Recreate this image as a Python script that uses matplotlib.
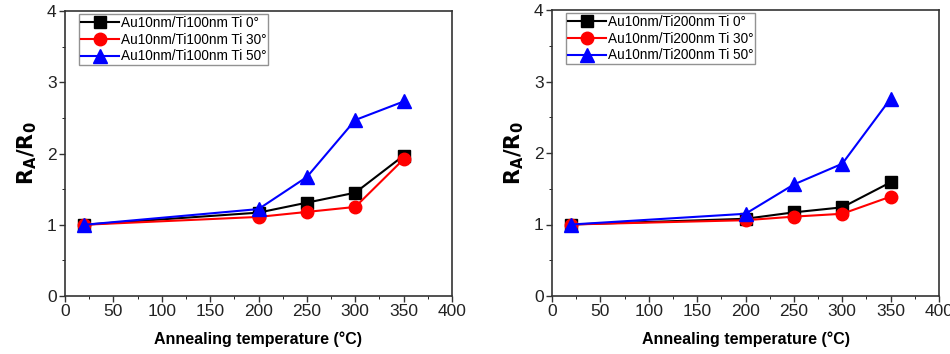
from matplotlib import pyplot
import matplotlib

matplotlib.rcParams['font.family'] = ['Liberation Sans', 'DejaVu Sans']

temps = [20, 200, 250, 300, 350]

ti100_0 = [1.00, 1.17, 1.31, 1.45, 1.97]
ti100_30 = [1.00, 1.11, 1.18, 1.25, 1.92]
ti100_50 = [1.00, 1.22, 1.67, 2.47, 2.73]

ti200_0 = [1.00, 1.08, 1.17, 1.24, 1.59]
ti200_30 = [1.00, 1.06, 1.11, 1.15, 1.39]
ti200_50 = [1.00, 1.15, 1.56, 1.85, 2.76]

labels_100 = ["Au10nm/Ti100nm Ti 0°", "Au10nm/Ti100nm Ti 30°", "Au10nm/Ti100nm Ti 50°"]
labels_200 = ["Au10nm/Ti200nm Ti 0°", "Au10nm/Ti200nm Ti 30°", "Au10nm/Ti200nm Ti 50°"]


def main():
    fig = pyplot.figure(figsize=(9.5, 3.54), dpi=100)
    ax = fig.add_axes([65 / 950, 1 - 296 / 354, 387 / 950, 285 / 354])
    ax1 = fig.add_axes([552 / 950, 1 - 296 / 354, 387 / 950, 286 / 354])

    styles = [("black", "s", 8.5), ("red", "o", 9), ("blue", "^", 10)]
    for a, series, labels in [(ax, [ti100_0, ti100_30, ti100_50], labels_100),
                              (ax1, [ti200_0, ti200_30, ti200_50], labels_200)]:
        for (c, m, ms), y, lab in zip(styles, series, labels):
            a.plot(temps, y, color=c, marker=m, ms=ms, lw=1.5, label=lab)
        a.set_xlim(0, 400)
        a.set_ylim(0, 4)
        a.set_xticks(range(0, 401, 50))
        a.set_xticks(range(25, 400, 50), minor=True)
        a.set_yticks([0, 1, 2, 3, 4])
        a.set_yticks([0.5, 1.5, 2.5, 3.5], minor=True)
        a.tick_params(labelsize=12.5, length=4, width=1, colors="#333333", labelcolor="#222222", pad=2)
        a.tick_params(which="minor", length=2.5)
        for s in a.spines.values():
            s.set_color("#333333")
            s.set_linewidth(1.2)
        a.set_xlabel("Annealing temperature (°C)", fontsize=11.5, fontweight="bold", labelpad=9)
        a.set_ylabel(r"$\mathbf{R_A/R_0}$", fontsize=15, labelpad=6)
        leg = a.legend(loc="upper left", bbox_to_anchor=(0.035, 0.99), fontsize=9.8,
                       frameon=True, fancybox=False, borderpad=0.15, labelspacing=0.2,
                       handlelength=2.8, handletextpad=0.15, borderaxespad=0.0)
        leg.get_frame().set_edgecolor("#777777")
        leg.get_frame().set_linewidth(1.0)

    pyplot.savefig("out.png", dpi=100)
    pyplot.close()


if __name__ == '__main__':
    main()
